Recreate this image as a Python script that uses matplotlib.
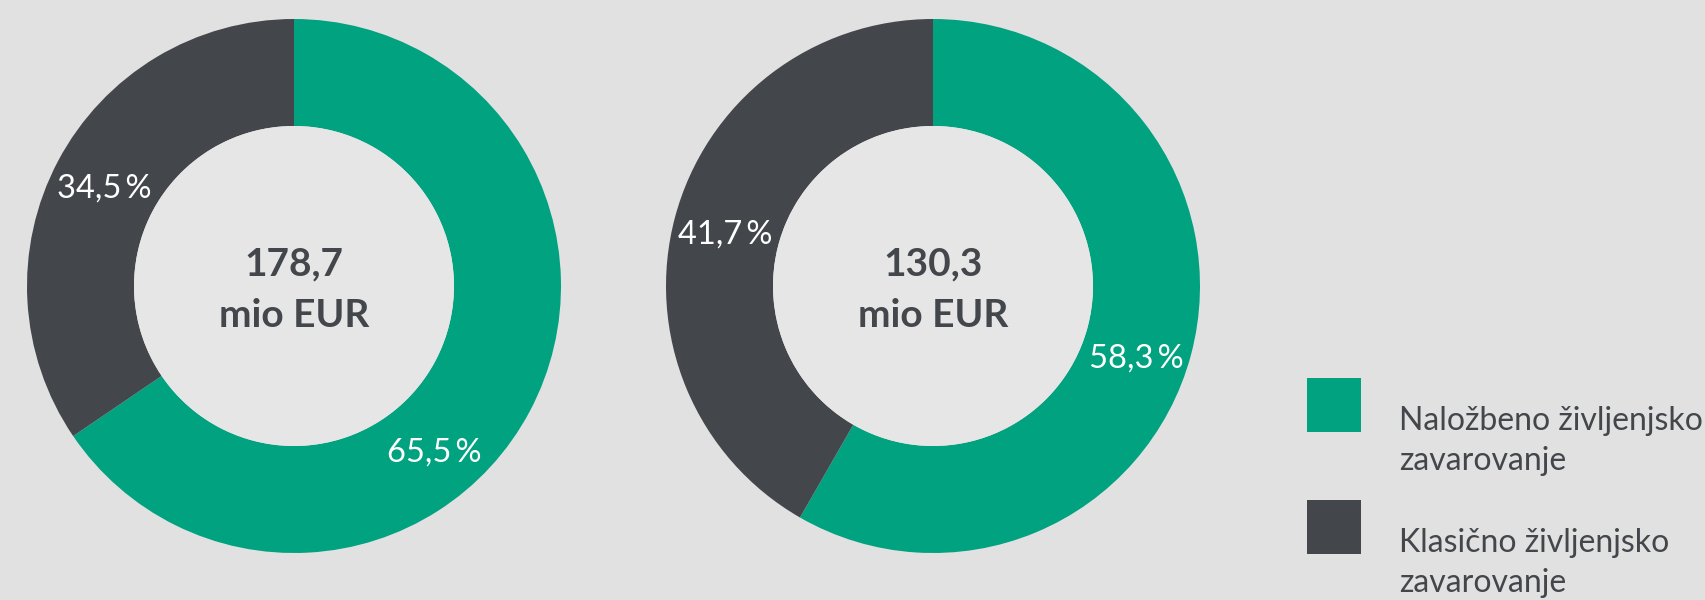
import matplotlib
matplotlib.use("Agg")
import numpy as np
import matplotlib.pyplot as plt
from matplotlib.patches import Circle, Rectangle

# Data
categories = ["Naložbeno življenjsko\nzavarovanje", "Klasično življenjsko\nzavarovanje"]
totals = ["178,7", "130,3"]
unit = "mio EUR"
shares_left = [65.5, 34.5]
shares_right = [58.3, 41.7]

# Style
GREEN = "#00a27f"
DARK = "#43474b"
BG = "#e1e1e1"
HOLE = "#e6e6e6"
FONT = ["Lato", "DejaVu Sans"]

fig = plt.figure(figsize=(17.05, 6), dpi=100, facecolor=BG)
ax = fig.add_axes([0, 0, 1, 1])
ax.set_facecolor(BG)

centers = [(294, 314), (933, 314)]
R_OUT, R_IN = 267, 160
LABEL_R = 215
green_label_shift = [21.5, 3.8]  # degrees, clockwise nudge for the green label

for (cx, cy), vals, total, shift in zip(centers, [shares_left, shares_right],
                                        totals, green_label_shift):
    wedges, _ = ax.pie(vals, colors=[GREEN, DARK], startangle=90, counterclock=False,
                       radius=R_OUT, center=(cx, cy), frame=True,
                       wedgeprops=dict(width=R_OUT - R_IN, linewidth=0))
    ax.add_patch(Circle((cx, cy), R_IN, facecolor=HOLE, edgecolor="none", zorder=3))
    for i, (w, v) in enumerate(zip(wedges, vals)):
        mid = np.deg2rad((w.theta1 + w.theta2) / 2 - (shift if i == 0 else 0))
        x = cx + LABEL_R * np.cos(mid)
        y = cy + LABEL_R * np.sin(mid)
        ax.text(x, y - 12.5, f"{v:.1f}".replace(".", ",") + "\u2009%", color="white",
                fontsize=23.5, family=FONT, ha="center", va="baseline", zorder=4)
    ax.text(cx, cy + 11, total, color=DARK, fontsize=28, fontweight="bold",
            family=FONT, ha="center", va="baseline", zorder=4)
    ax.text(cx, cy - 41, unit, color=DARK, fontsize=28, fontweight="bold",
            family=FONT, ha="center", va="baseline", zorder=4)

# Legend
sq_tops = [378, 500]
for cat, col, top in zip(categories, [GREEN, DARK], sq_tops):
    ax.add_patch(Rectangle((1307, 600 - top - 54), 54, 54, facecolor=col,
                           edgecolor="none"))
    for j, line in enumerate(cat.split("\n")):
        ax.text(1399, 600 - (top + 52 + 40 * j), line, color=DARK, fontsize=23,
                fontweight="normal", family=FONT, ha="left", va="baseline")

ax.set_xlim(0, 1705)
ax.set_ylim(0, 600)
ax.set_aspect("equal")
ax.axis("off")

fig.savefig("out.png", dpi=100, facecolor=BG)
